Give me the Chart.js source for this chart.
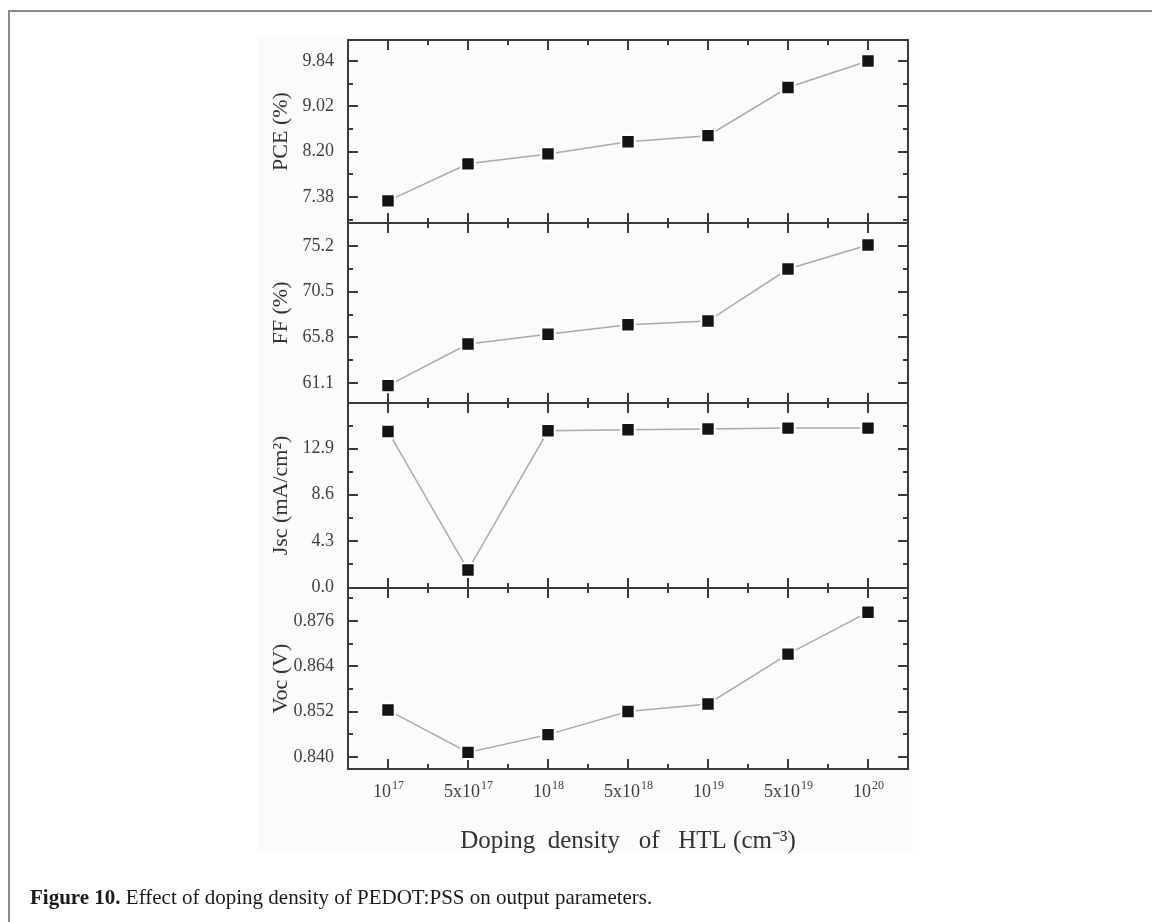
<!DOCTYPE html>
<html>
<head>
<meta charset="utf-8">
<script src="https://cdn.jsdelivr.net/npm/chart.js@4.4.0/dist/chart.umd.min.js"></script>
<style>
  html, body { margin: 0; padding: 0; background: #fff; }
  body { width: 1152px; height: 922px; position: relative; overflow: hidden; }
  #frame { position: absolute; left: 8px; top: 10px; width: 1150px; height: 920px;
           border-left: 2px solid #8c8c8c; border-top: 2px solid #8c8c8c; }
  #plotbg { position: absolute; left: 258px; top: 37px; width: 655px; height: 816px; background: #fbfbfb; }
  #wrap { position: absolute; left: 0; top: 0; width: 1152px; height: 922px; }
  #caption { position: absolute; left: 30px; top: 885px; font-family: "Liberation Serif", serif;
             font-size: 21px; color: #1a1a1a; white-space: nowrap; }
</style>
</head>
<body>
<div id="frame"></div>
<div id="plotbg"></div>
<div id="wrap"><canvas id="chart_doping"></canvas></div>
<div id="caption"><b>Figure 10.</b> Effect of doping density of PEDOT:PSS on output parameters.</div>
<script>
// doping density categories (cm^-3), exponent after '^'
const doping = ['10^17', '5x10^17', '10^18', '5x10^18', '10^19', '5x10^19', '10^20'];

// values
const pce = [7.31, 7.98, 8.16, 8.38, 8.49, 9.36, 9.84];
const ff = [60.83, 65.11, 66.11, 67.10, 67.48, 72.83, 75.30];
const jsc = [14.50, 1.57, 14.56, 14.66, 14.72, 14.81, 14.81];
const voc = [0.8524, 0.8412, 0.8459, 0.8520, 0.8540, 0.8672, 0.8783];

// labelled ticks of each panel
const pceTicks = ['7.38', '8.20', '9.02', '9.84'];
const ffTicks = ['61.1', '65.8', '70.5', '75.2'];
const jscTicks = ['0.0', '4.3', '8.6', '12.9'];
const vocTicks = ['0.840', '0.852', '0.864', '0.876'];

// bottom to top (last one is stacked on top)
const panels = [
    { id: 'voc', title: 'Voc (V)', data: voc, labels: vocTicks, min: 0.8368, max: 0.8847, step: 0.006, weight: 181 },
    { id: 'jsc', title: 'Jsc (mA/cm²)', data: jsc, labels: jscTicks, min: -0.1, max: 17.15, step: 2.15, weight: 185 },
    { id: 'ff', title: 'FF (%)', data: ff, labels: ffTicks, min: 59.04, max: 77.57, step: 2.35, weight: 180 },
    { id: 'pce', title: 'PCE (%)', data: pce, labels: pceTicks, min: 6.91, max: 10.22, step: 0.41, weight: 183 }
];

const serif = 'Liberation Serif, Times New Roman, serif';
const axisColor = '#3a3a3a';
const textColor = '#404040';

function labelFor(p, v) {
    const hit = p.labels.find(s => Math.abs(parseFloat(s) - v) < p.step * 0.01);
    return hit === undefined ? '' : hit;
}

// inward tick marks + panel frames, drawn from the chart's own scales
const frameTicks = {
    id: 'frameTicks',
    beforeDatasetsDraw(chart) {
        const ctx = chart.ctx;
        const xs = chart.scales.x;
        const left = chart.chartArea.left, right = chart.chartArea.right;
        ctx.save();
        ctx.strokeStyle = axisColor;
        ctx.lineWidth = 2;
        ctx.beginPath();
        panels.forEach(p => {
            const ys = chart.scales[p.id];
            ys.ticks.forEach(t => {
                const k = t.value / p.step;
                if (Math.abs(k - Math.round(k)) > 1e-6) return;
                const y = Math.round(ys.getPixelForValue(t.value));
                if (y <= ys.top + 1 || y >= ys.bottom - 1) return;
                const len = labelFor(p, t.value) ? 10 : 5;
                ctx.moveTo(left, y); ctx.lineTo(left + len, y);
                ctx.moveTo(right, y); ctx.lineTo(right - len, y);
            });
            xs.ticks.forEach(t => {
                if (t.value <= xs.min || t.value >= xs.max) return;
                const x = Math.round(xs.getPixelForValue(t.value));
                const len = Number.isInteger(t.value) ? 10 : 5;
                ctx.moveTo(x, ys.bottom); ctx.lineTo(x, ys.bottom - len);
                ctx.moveTo(x, ys.top); ctx.lineTo(x, ys.top + len);
            });
        });
        ctx.stroke();
        panels.forEach(p => {
            const ys = chart.scales[p.id];
            ctx.strokeRect(left, ys.top, right - left, ys.bottom - ys.top);
        });
        ctx.restore();
    },
    // x category labels with raised exponents
    afterDraw(chart) {
        const ctx = chart.ctx;
        const xs = chart.scales.x;
        const base = '18px ' + serif, sup = '12px ' + serif;
        ctx.save();
        ctx.fillStyle = textColor;
        ctx.textAlign = 'left';
        ctx.textBaseline = 'alphabetic';
        xs.ticks.forEach(t => {
            if (!Number.isInteger(t.value) || doping[t.value] === undefined) return;
            const [b, e] = doping[t.value].split('^');
            ctx.font = base;
            const wb = ctx.measureText(b).width;
            ctx.font = sup;
            const we = ctx.measureText(e).width;
            const x0 = xs.getPixelForValue(t.value) - (wb + we) / 2;
            const y0 = xs.top + 28;
            ctx.font = base;
            ctx.fillText(b, x0, y0);
            ctx.font = sup;
            ctx.fillText(e, x0 + wb + 1, y0 - 8);
        });
        ctx.restore();
    }
};

const scales = {
    x: {
        type: 'linear',
        position: 'bottom',
        min: -0.5,
        max: 6.5,
        grid: { display: false, drawTicks: false },
        border: { display: false },
        ticks: {
            stepSize: 0.5,
            autoSkip: false,
            includeBounds: false,
            maxTicksLimit: 100,
            maxRotation: 0,
            callback: () => ''
        },
        title: {
            display: true,
            text: 'Doping  density   of   HTL (cm⁻³)',
            color: '#333',
            font: { family: serif, size: 25 },
            padding: { top: 0, bottom: 13 }
        },
        afterFit(s) { s.height = 100; }
    }
};

panels.forEach(p => {
    scales[p.id] = {
        type: 'linear',
        position: 'left',
        stack: 'panels',
        stackWeight: p.weight,
        offset: false,
        min: p.min,
        max: p.max,
        grid: { display: false, drawTicks: false },
        border: { display: false },
        ticks: {
            stepSize: p.step,
            autoSkip: false,
            includeBounds: false,
            maxTicksLimit: 100,
            padding: 14,
            color: textColor,
            font: { family: serif, size: 18 },
            callback: v => labelFor(p, v)
        },
        title: {
            display: true,
            text: p.title,
            color: '#333',
            font: { family: serif, size: 22 },
            padding: { top: 2, bottom: 0 }
        },
        afterFit(s) { s.width = 82; }
    };
});

let ctxDoping = document.getElementById('chart_doping').getContext('2d');
let chartDoping = new Chart(ctxDoping, {
    type: 'line',
    data: {
        datasets: panels.map(p => ({
            label: p.title,
            yAxisID: p.id,
            data: p.data.map((v, i) => ({ x: i, y: v })),
            borderColor: '#aaaaaa',
            borderWidth: 1.5,
            pointStyle: 'rect',
            pointRadius: 9.5,
            pointBackgroundColor: '#141414',
            pointBorderColor: '#ffffff',
            pointBorderWidth: 2,
            tension: 0
        }))
    },
    options: {
        responsive: true,
        maintainAspectRatio: false,
        animation: false,
        layout: { padding: { left: 266, right: 244, top: 40, bottom: 53 } },
        plugins: {
            legend: { display: false },
            tooltip: { enabled: false }
        },
        scales: scales
    },
    plugins: [frameTicks]
});
</script>
</body>
</html>
